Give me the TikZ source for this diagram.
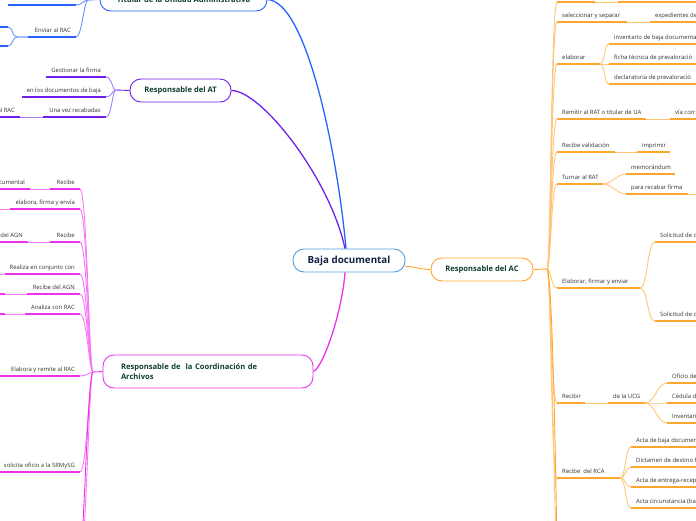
\documentclass[tikz,border=0pt]{standalone}
\usepackage{fontspec}
\setmainfont{Open Sans}
\definecolor{blA}{RGB}{41,98,255}
\definecolor{blL}{RGB}{105,145,255}
\definecolor{puA}{RGB}{112,32,236}
\definecolor{puL}{RGB}{165,130,250}
\definecolor{mgA}{RGB}{236,50,236}
\definecolor{mgL}{RGB}{246,120,246}
\definecolor{orA}{RGB}{255,166,44}
\definecolor{orL}{RGB}{255,196,120}
\definecolor{bjA}{RGB}{80,158,222}
\definecolor{navy}{RGB}{18,32,70}
\definecolor{titgreen}{RGB}{14,62,48}
\definecolor{labgray}{RGB}{50,50,50}

\begin{document}
\begin{tikzpicture}[
  x=1pt, y=-1pt,
  topic/.style={draw, fill=white, rounded corners=11pt, line width=0.9pt, minimum height=23pt, inner xsep=8pt, font=\fontsize{7.6}{9}\selectfont\bfseries, text=titgreen},
  lab/.style={font=\fontsize{5.9}{7}\selectfont, text=labgray, inner xsep=5pt, inner ysep=3.3pt, text height=4.4pt, text depth=1.4pt},
  rl/.style={lab, anchor=south west, align=left},
  ll/.style={lab, anchor=south east, align=right},
  ulor/.style={draw=orA, line width=1.4pt},
  lkor/.style={draw=orL, line width=0.9pt},
  ulmg/.style={draw=mgA, line width=1.4pt},
  lkmg/.style={draw=mgL, line width=0.9pt},
  ulpu/.style={draw=puA, line width=1.4pt},
  lkpu/.style={draw=puL, line width=0.9pt},
  ulbl/.style={draw=blA, line width=1.4pt},
  lkbl/.style={draw=blL, line width=0.9pt}
]
\useasboundingbox (0,0) rectangle (696,520);
\clip (0,0) rectangle (696,520);

% Main topics
\node[topic, draw=bjA, text=navy, font=\fontsize{9.8}{11}\selectfont\bfseries, minimum width=112pt] (baja) at (349,260.5) {Baja documental};
\node[topic, draw=blA, minimum width=167pt] (tit) at (183.5,-0.5) {Titular de la Unidad Administrativa};
\node[topic, draw=puA, minimum width=101pt] (at) at (180.5,90.5) {Responsable del AT};
\node[topic, draw=mgA, minimum height=33pt, inner xsep=18pt, text width=174pt, align=left, font=\fontsize{7.6}{10.5}\selectfont\bfseries] (rca) at (208,371.5) {Responsable de\ \ la Coordinación de\\Archivos};
\node[topic, draw=orA, minimum width=102pt] (ac) at (482,269.5) {Responsable del AC};

% Center to topics
\draw[blA, line width=1.3pt] ([xshift=-3pt]baja.north) .. controls +(-8,-90) and +(40,2) .. (tit.east);
\draw[puA, line width=1.3pt] ([xshift=-4pt]baja.north) .. controls +(-15,-70) and +(30,0) .. (at.east);
\draw[mgA, line width=1.3pt] ([xshift=-4pt]baja.south) .. controls +(-3,40) and +(10,-5) .. (rca.east);
\draw[orA, line width=0.9pt] ([yshift=-6pt]baja.east) .. controls +(10,0) and +(-10,0) .. (ac.west);

% Junctions
\coordinate (tj) at (88,0);
\coordinate (atj) at (116,90);
\coordinate (cj) at (93,372);
\coordinate (acj) at (547,269);
\draw[blA, line width=0.9pt] (tit.west) -- (tj);
\draw[puA, line width=0.9pt] (at.west) -- (atj);
\draw[mgA, line width=0.9pt] (rca.west) -- (cj);
\draw[orA, line width=0.9pt] (ac.east) -- (acj);

% Titular branch
\coordinate (t1) at (76,5);
\draw[ulbl] (t1) -- ++(-68,0);
\draw[lkbl] (t1) .. controls +(6,0) and +(-4,0) .. (tj);
\node[ll] (env) at (76,37) {Enviar al RAC};
\draw[ulbl] (env.south east) -- ++(-48,0) coordinate (env-w);
\draw[lkbl] (env.south east) .. controls +(6,0) and +(-4,0) .. (tj);
\coordinate (g1) at (8,27);
\coordinate (g2) at (8,46);
\draw[ulbl] (g1) -- ++(-40,0);
\draw[ulbl] (g2) -- ++(-40,0);
\draw[lkbl] (env-w) -- ++(-11,0) .. controls +(-5,0) and +(5,0) .. (g1);
\draw[lkbl] (env-w) -- ++(-11,0) .. controls +(-5,0) and +(5,0) .. (g2);

% AT branch
\node[ll] (ges) at (106,77) {Gestionar la firma};
\draw[ulpu] (ges.south east) -- ++(-60,0);
\node[ll] (edb) at (106,97) {en los documentos de baja};
\draw[ulpu] (edb.south east) -- ++(-84,0);
\node[ll] (uvr) at (106,117) {Una vez recabadas};
\draw[ulpu] (uvr.south east) -- ++(-63,0) coordinate (uvr-w);
\node[ll] (arc) at (20,117) {al RAC};
\draw[ulpu] (arc.south east) -- ++(-50,0);
\draw[lkpu] (uvr-w) -- (arc.south east);
\foreach \n in {ges,edb,uvr}
  \draw[lkpu] (\n.south east) .. controls +(6,0) and +(-4,0) .. (atj);

% Coordinacion branch
\node[ll] (rc1) at (80,189) {Recibe};
\draw[ulmg] (rc1.south east) -- ++(-30,0) coordinate (rc1-w);
\node[ll] (doc) at (30,189) {documental};
\draw[ulmg] (doc.south east) -- ++(-50,0);
\draw[lkmg] (rc1-w) -- (doc.south east);
\node[ll] (elb) at (80,209) {elabora, firma y envía};
\draw[ulmg] (elb.south east) -- ++(-70,0) coordinate (elb-w);
\draw[lkmg] (elb-w) -- ++(-20,0);
\node[ll] (rc2) at (80,242) {Recibe};
\draw[ulmg] (rc2.south east) -- ++(-30,0) coordinate (rc2-w);
\node[ll] (agn) at (28,242) {del AGN};
\draw[ulmg] (agn.south east) -- ++(-50,0);
\draw[lkmg] (rc2-w) -- (agn.south east);
\node[ll] (rea) at (80,274) {Realiza en conjunto con};
\draw[ulmg] (rea.south east) -- ++(-75,0) coordinate (rea-w);
\draw[lkmg] (rea-w) -- ++(-20,0);
\node[ll] (rag) at (80,294) {Recibe del AGN};
\draw[ulmg] (rag.south east) -- ++(-53,0) coordinate (rag-w);
\draw[lkmg] (rag-w) -- ++(-22,0) coordinate (rag-g);
\draw[ulmg] (rag-g) -- ++(-30,0);
\node[ll] (ana) at (80,314) {Analiza con RAC};
\draw[ulmg] (ana.south east) -- ++(-55,0) coordinate (ana-w);
\draw[lkmg] (ana-w) -- ++(-20,0) coordinate (ana-g);
\draw[ulmg] (ana-g) -- ++(-30,0);
\node[ll] (ela) at (80,376) {Elabora y remite al RAC};
\draw[ulmg] (ela.south east) -- ++(-90,0);
\node[ll] (sol) at (80,472) {solicita oficio a la SRMySG};
\draw[ulmg] (sol.south east) -- ++(-90,0);
\foreach \n in {rc1,elb,rc2,rea,rag,ana,ela,sol}
  \draw[lkmg] (\n.south east) .. controls +(7,0) and +(-4,0) .. (cj);
\coordinate (cdn) at (80,560);
\draw[lkmg] (cj) .. controls +(-4,0) and +(6,0) .. (cdn);
\draw[mgA, line width=0.9pt] (cj) .. controls +(-5,0) and +(4,-20) .. (cdn);

% AC branch
\coordinate (r0) at (557,2);
\draw[ulor] (r0) -- ++(38,0) coordinate (r0-e);
\draw[lkor] (r0-e) -- ++(23,0) coordinate (r0-g);
\draw[ulor] (r0-g) -- ++(90,0);
\draw[lkor] (acj) .. controls +(4,0) and +(-6,0) .. (r0);

\node[rl] (sel) at (557,22) {seleccionar y separar};
\draw[ulor] (sel.south west) -- ++(70,0) coordinate (sel-e);
\node[rl] (exp) at (650,22) {expedientes de};
\draw[ulor] (exp.south west) -- ++(70,0);
\draw[lkor] (sel-e) -- (exp.south west);

\node[rl] (elab) at (557,64) {elaborar};
\draw[ulor] (elab.south west) -- ++(43,0) coordinate (elab-e);
\node[rl] (inv) at (609,44) {inventario de baja documenta};
\node[rl] (fic) at (609,64) {ficha técnica de prevaloració};
\node[rl] (dec) at (609,84) {declaratoria de prevaloració};
\foreach \n in {inv,fic,dec}{
  \draw[ulor] (\n.south west) -- ++(100,0);
  \draw[lkor] (elab-e) .. controls +(5,0) and +(-5,0) .. (\n.south west);
}

\node[rl] (rem) at (557,119) {Remitir al RAT o titular de UA};
\draw[ulor] (rem.south west) -- ++(89,0) coordinate (rem-e);
\node[rl] (via) at (670,119) {vía corr};
\draw[ulor] (via.south west) -- ++(60,0);
\draw[lkor] (rem-e) -- (via.south west);

\node[rl] (rval) at (557,152) {Recibe validación};
\draw[ulor] (rval.south west) -- ++(58,0) coordinate (rval-e);
\node[rl] (imp) at (637,152) {imprimir};
\draw[ulor] (imp.south west) -- ++(33,0);
\draw[lkor] (rval-e) -- (imp.south west);

\node[rl] (tur) at (557,184) {Turnar al RAT};
\draw[ulor] (tur.south west) -- ++(46,0) coordinate (tur-e);
\node[rl] (mem) at (626,174) {memorándum};
\draw[ulor] (mem.south west) -- ++(49,0);
\node[rl] (par) at (626,194) {para recabar firma};
\draw[ulor] (par.south west) -- ++(62,0) coordinate (par-e);
\draw[lkor] (par-e) -- ++(20,0);
\foreach \n in {mem,par}
  \draw[lkor] (tur-e) .. controls +(8,0) and +(-8,0) .. (\n.south west);

\node[rl] (efe) at (557,288) {Elaborar, firmar y enviar};
\draw[ulor] (efe.south west) -- ++(83,0) coordinate (efe-e);
\node[rl] (sol1) at (655,242) {Solicitud de c};
\node[rl] (sol2) at (655,321) {Solicitud de c};
\foreach \n in {sol1,sol2}{
  \draw[ulor] (\n.south west) -- ++(60,0);
  \draw[lkor] (efe-e) .. controls +(8,0) and +(-8,0) .. (\n.south west);
}

\node[rl] (rcb) at (557,403) {Recibir};
\draw[ulor] (rcb.south west) -- ++(28,0) coordinate (rcb-e);
\node[rl] (ucg) at (608,403) {de la UCG};
\draw[ulor] (ucg.south west) -- ++(37,0) coordinate (ucg-e);
\draw[lkor] (rcb-e) -- (ucg.south west);
\node[rl] (ofi) at (667,383) {Oficio de};
\node[rl] (ced) at (667,403) {Cédula d};
\node[rl] (invt) at (667,423) {Inventari};
\foreach \n in {ofi,ced,invt}{
  \draw[ulor] (\n.south west) -- ++(50,0);
  \draw[lkor] (ucg-e) .. controls +(10,0) and +(-10,0) .. (\n.south west);
}

\node[rl] (rrca) at (557,478) {Recibe\ \ del RCA};
\draw[ulor] (rrca.south west) -- ++(63,0) coordinate (rrca-e);
\node[rl] (act1) at (631,447) {Acta de baja documen};
\node[rl] (dict) at (631,467) {Dictamen de destino f};
\node[rl] (act2) at (631,487) {Acta de entrega-recep};
\node[rl] (act3) at (631,508) {Acta circunstancia (ba};
\foreach \n in {act1,dict,act2,act3}{
  \draw[ulor] (\n.south west) -- ++(80,0);
  \draw[lkor] (rrca-e) .. controls +(6,0) and +(-6,0) .. (\n.south west);
}

\foreach \n in {sel,elab,rem,rval,tur,efe,rcb,rrca}
  \draw[lkor] (acj) .. controls +(4,0) and +(-6,0) .. (\n.south west);
\coordinate (adn) at (557,560);
\draw[lkor] (acj) .. controls +(4,0) and +(-2,-10) .. (adn);
\draw[orA, line width=0.9pt] (acj) .. controls +(6,0) and +(0,-20) .. (adn);
\end{tikzpicture}
\end{document}
